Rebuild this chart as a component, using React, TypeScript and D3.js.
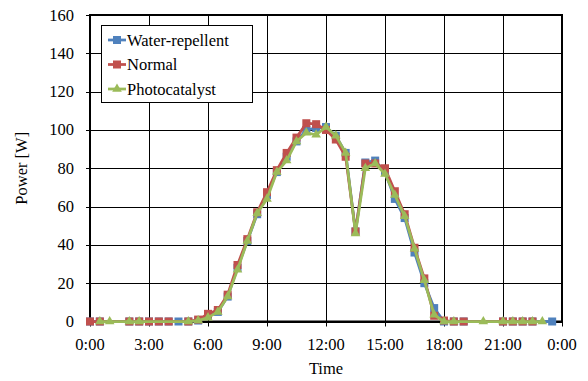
import * as d3 from 'd3';
import { useRef, useEffect } from 'react';

// hours of day, 30 min steps
const hours = d3.range(0, 24, 0.5);

// null = no sample logged at that time
const waterRepellent: (number | null)[] = [
  0, 0, null, null, 0, 0, 0, 0, 0, 0, 0, 0.5,
  3, 5, 13, 28, 42, 56, 66, 78, 86, 94, 100, 101,
  101.5, 97, 88, 47, 83, 84, 78, 64, 54, 36, 20, 7,
  0, 0, 0, null, null, null, 0, 0, 0, 0, null, 0,
];
const normal: (number | null)[] = [
  0, 0, null, null, 0, 0, 0, 0, 0, null, 0, 1,
  4, 6, 14, 29.5, 43, 57, 67.5, 79, 88, 96, 103.5, 103,
  100, 95, 86, 47, 82.5, 82.5, 80, 68, 56, 38.5, 22.5, 3,
  0.5, 0, 0, null, null, null, 0, 0, 0, 0, null, null,
];
const photocatalyst: (number | null)[] = [
  null, 0, 0, null, 0, 0, null, null, null, null, 0, 0.5,
  2, 5, 13, 27, 42, 56.5, 64, 78, 84, 94, 98.5, 97.5,
  101.5, 97, 88, 46, 80, 82.5, 77, 66, 55, 38, 21.5, 3.5,
  0, 0, null, null, 0, null, 0, 0, 0, 0, 0, null,
];

const seriesNames = ['Water-repellent', 'Normal', 'Photocatalyst'];
const seriesColors = ['#4F81BD', '#C0504D', '#9BBB59'];
const xTicks = d3.range(0, 25, 3);
const yTicks = d3.range(0, 161, 20);

const W = 588;
const H = 381;

const PowerChart: React.FC = () => {
  const ref = useRef<SVGSVGElement>(null);

  useEffect(() => {
    if (!ref.current) return;
    const svg = d3.select(ref.current);
    svg.selectAll('*').remove();

    const font = 'Liberation Serif, serif';
    const x = d3.scaleLinear().domain([0, 24]).range([90, 562]);
    const y = d3.scaleLinear().domain([0, 160]).range([321.5, 15]);
    const px = (v: number) => Math.round(v) + 0.5;

    // grid
    const grid = svg.append('g').attr('stroke', '#000').attr('stroke-width', 1);
    grid.selectAll('line.v').data(xTicks).join('line')
      .attr('x1', d => px(x(d))).attr('x2', d => px(x(d)))
      .attr('y1', y(160)).attr('y2', y(0) + 5);
    grid.selectAll('line.h').data(yTicks).join('line')
      .attr('x1', x(0) - 4).attr('x2', x(24))
      .attr('y1', d => px(y(d))).attr('y2', d => px(y(d)));

    // frame
    svg.append('rect')
      .attr('x', x(0)).attr('y', y(160))
      .attr('width', x(24) - x(0)).attr('height', y(0) - y(160))
      .attr('fill', 'none').attr('stroke', '#000').attr('stroke-width', 2);

    // tick labels
    svg.append('g').attr('font-family', font).attr('font-size', 16.5).attr('text-anchor', 'end')
      .selectAll('text').data(yTicks).join('text')
      .attr('x', x(0) - 16).attr('y', d => y(d) + 5.5)
      .text(d => d);
    svg.append('g').attr('font-family', font).attr('font-size', 16.5).attr('text-anchor', 'middle')
      .selectAll('text').data(xTicks).join('text')
      .attr('x', d => x(d)).attr('y', y(0) + 28)
      .text(d => `${d % 24}:00`);

    svg.append('text').attr('font-family', font).attr('font-size', 16.5).attr('text-anchor', 'middle')
      .attr('x', (x(0) + x(24)) / 2).attr('y', 374).text('Time');
    svg.append('text').attr('font-family', font).attr('font-size', 16.5).attr('text-anchor', 'middle')
      .attr('transform', `translate(27,${(y(0) + y(160)) / 2}) rotate(-90)`).text('Power [W]');

    const allSeries = [waterRepellent, normal, photocatalyst];
    const line = d3.line<[number, number]>().x(d => x(d[0])).y(d => y(d[1]));

    allSeries.forEach((vals, i) => {
      const pts: [number, number][] = [];
      vals.forEach((v, j) => { if (v !== null) pts.push([hours[j], v]); });
      const g = svg.append('g');
      g.append('path').attr('d', line(pts)).attr('fill', 'none')
        .attr('stroke', seriesColors[i]).attr('stroke-width', 2.75).attr('stroke-linejoin', 'round');
      if (i < 2) {
        g.selectAll('rect').data(pts).join('rect')
          .attr('x', d => x(d[0]) - 4).attr('y', d => y(d[1]) - 4)
          .attr('width', 8).attr('height', 8).attr('fill', seriesColors[i]);
      } else {
        g.selectAll('path.m').data(pts).join('path').attr('class', 'm')
          .attr('d', d3.symbol(d3.symbolTriangle, 40)())
          .attr('transform', d => `translate(${x(d[0])},${y(d[1])})`)
          .attr('fill', seriesColors[i]);
      }
    });

    // legend
    const lg = svg.append('g');
    lg.append('rect').attr('x', 101.5).attr('y', 25.5).attr('width', 151).attr('height', 77)
      .attr('fill', '#fff').attr('stroke', '#000').attr('stroke-width', 1);
    seriesNames.forEach((name, i) => {
      const cy = 40 + i * 24.5;
      lg.append('line').attr('x1', 108).attr('x2', 126).attr('y1', cy).attr('y2', cy)
        .attr('stroke', seriesColors[i]).attr('stroke-width', 2.75);
      if (i < 2) {
        lg.append('rect').attr('x', 113).attr('y', cy - 4).attr('width', 8).attr('height', 8).attr('fill', seriesColors[i]);
      } else {
        lg.append('path').attr('d', d3.symbol(d3.symbolTriangle, 40)())
          .attr('transform', `translate(117,${cy})`).attr('fill', seriesColors[i]);
      }
      lg.append('text').attr('font-family', font).attr('font-size', 16.5)
        .attr('x', 127).attr('y', cy + 5.5).text(name);
    });
  }, []);

  return <svg ref={ref} width={W} height={H} style={{ position: 'absolute', left: 0, top: 0, background: '#fff' }}></svg>;
};

export default function App() {
  return <PowerChart />;
}
